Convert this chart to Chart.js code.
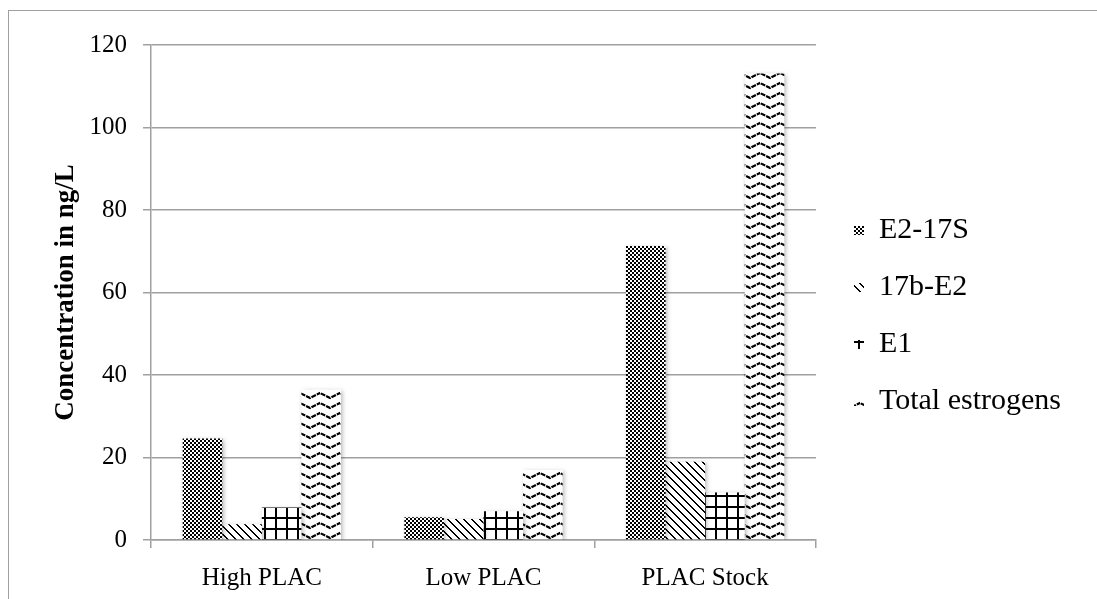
<!DOCTYPE html>
<html><head><meta charset="utf-8">
<script src="https://cdn.jsdelivr.net/npm/chart.js@4.4.0/dist/chart.umd.min.js"></script>
<style>
html,body{margin:0;padding:0;background:#fff;overflow:hidden;}
#frame{position:absolute;left:8px;top:10px;width:1200px;height:700px;border:1px solid #a0a0a0;box-sizing:border-box;}
#wrap{position:absolute;left:0;top:0;width:1097px;height:599px;}
</style></head><body>
<div id="frame"></div>
<div id="wrap"><canvas id="c" width="1097" height="599"></canvas></div>
<script>
// ---- data ----
const categories = ['High PLAC', 'Low PLAC', 'PLAC Stock'];
const seriesNames = ['E2-17S', '17b-E2', 'E1', 'Total estrogens'];
const e2_17s = [24.6, 5.5, 71.3];
const b17_e2 = [3.8, 5.1, 19.0];
const e1 = [7.9, 7.0, 11.5];
const totalEstrogens = [36.5, 17.0, 113.1];
const yTickMin = 0, yTickMax = 120, yTickStep = 20;
const yTitle = 'Concentration in ng/L';

// ---- patterns ----
const mainCtx = document.getElementById('c').getContext('2d');
function makePattern(w, h, draw) {
  const c = document.createElement('canvas');
  c.width = w; c.height = h;
  const g = c.getContext('2d');
  g.fillStyle = '#fff'; g.fillRect(0, 0, w, h);
  g.fillStyle = '#000'; g.strokeStyle = '#000';
  draw(g, w, h);
  return mainCtx.createPattern(c, 'repeat');
}
const pChecker = makePattern(4, 4, g => { g.fillRect(0, 0, 2, 2); g.fillRect(2, 2, 2, 2); });
const pDiag = makePattern(8, 8, g => {
  for (let i = 0; i < 8; i++) { g.fillRect(i, i, 2, 1); }
  g.fillRect(0, 7, 1, 1);
});
const pGrid = makePattern(11, 11, g => { g.fillRect(0, 0, 11, 2); g.fillRect(0, 0, 2, 11); });
const pZig = makePattern(20, 10, g => {
  g.lineWidth = 2.2;
  g.setLineDash([5, 1]);
  for (const o of [-10, 0, 10]) {
    g.beginPath();
    g.moveTo(-10, 8 + o); g.lineTo(0, 3 + o); g.lineTo(10, 8 + o); g.lineTo(20, 3 + o); g.lineTo(30, 8 + o);
    g.stroke();
  }
});

const serif = '"Liberation Serif", "Times New Roman", serif';
const gridColor = '#a0a0a0';

const shadowPlugin = {
  id: 'barShadow',
  beforeDatasetsDraw(chart) {
    const ctx = chart.ctx;
    ctx.save();
    ctx.shadowColor = 'rgba(0,0,0,0.28)';
    ctx.shadowBlur = 4;
    ctx.shadowOffsetX = 1.5;
    ctx.shadowOffsetY = 1.5;
  },
  afterDatasetsDraw(chart) { chart.ctx.restore(); }
};
const legendShift = {
  id: 'legendShift',
  afterLayout(chart) {
    const l = chart.legend;
    if (!l) return;
    l.left += 11; l.right += 11;
    l.top -= 6; l.bottom -= 6;
  }
};

new Chart(mainCtx, {
  type: 'bar',
  data: {
    labels: categories,
    datasets: [
      { label: seriesNames[0], data: e2_17s, backgroundColor: pChecker, borderWidth: 0 },
      { label: seriesNames[1], data: b17_e2, backgroundColor: pDiag, borderWidth: 0 },
      { label: seriesNames[2], data: e1, backgroundColor: pGrid, borderWidth: 0 },
      { label: seriesNames[3], data: totalEstrogens, backgroundColor: pZig, borderWidth: 0 }
    ]
  },
  options: {
    responsive: false,
    animation: false,
    devicePixelRatio: 1,
    layout: { padding: { top: 45, left: 0, right: 37, bottom: 0 } },
    datasets: { bar: { categoryPercentage: 0.714, barPercentage: 1.0 } },
    scales: {
      x: {
        grid: { display: true, drawOnChartArea: false, drawTicks: true, tickLength: 8, color: gridColor, lineWidth: 1.5, offset: true },
        border: { display: true, color: gridColor, width: 1.5 },
        ticks: { color: '#000', font: { family: serif, size: 25 }, padding: 15 },
        afterFit: s => { s.height = 59; }
      },
      y: {
        min: yTickMin, max: yTickMax,
        ticks: { stepSize: yTickStep, color: '#000', font: { family: serif, size: 25 }, padding: 16 },
        grid: { color: gridColor, lineWidth: 1.5, tickLength: 8 },
        border: { display: true, color: gridColor, width: 1.5 },
        title: { display: true, text: yTitle, color: '#000', font: { family: serif, size: 27, weight: 'bold' }, padding: { top: 50, bottom: 0 } },
        afterFit: s => { s.width = 151; }
      }
    },
    plugins: {
      legend: {
        position: 'right', align: 'center',
        labels: { boxWidth: 10, boxHeight: 9, padding: 27, color: '#000', font: { family: serif, size: 30 } }
      },
      tooltip: { enabled: false },
      title: { display: false }
    }
  },
  plugins: [shadowPlugin, legendShift]
});
</script>
</body></html>
